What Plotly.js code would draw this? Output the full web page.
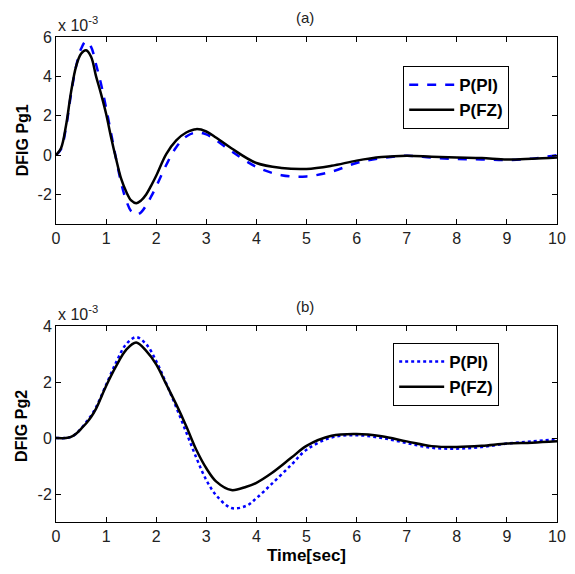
<!DOCTYPE html>
<html><head><meta charset="utf-8">
<script src="https://cdn.plot.ly/plotly-3.0.1.min.js"></script>
<style>html,body{margin:0;padding:0;background:#fff}</style>
</head><body><div id="chart" style="width:575px;height:574px"></div>
<script>
// Values in units of 1e-3
const tA = [0,0.1,0.2,0.3,0.4,0.5,0.6,0.7,0.8,0.9,1.0,1.1,1.2,1.3,1.4,1.5,1.6,1.7,1.8,1.9,2.0,2.2,2.4,2.6,2.8,3.0,3.2,3.5,4.0,4.5,5.0,5.5,6.0,6.5,7.0,7.5,8.0,8.5,9.0,9.5,10];
const pgA_PI = [0,0.3,1.4,3.1,4.5,5.4,5.78,5.5,4.6,3.6,2.4,1.1,-0.2,-1.4,-2.3,-2.85,-3.03,-2.9,-2.55,-2.1,-1.6,-0.5,0.4,0.95,1.15,1.05,0.75,0.2,-0.6,-1.02,-1.08,-0.84,-0.4,-0.15,-0.03,-0.13,-0.2,-0.22,-0.25,-0.18,0];
const pgA_FZ = [0,0.35,1.5,3.2,4.5,5.15,5.33,5.0,4.0,3.1,2.1,0.9,-0.2,-1.2,-1.85,-2.3,-2.44,-2.3,-2.0,-1.55,-1.05,0.05,0.75,1.15,1.32,1.2,0.88,0.35,-0.4,-0.65,-0.7,-0.54,-0.28,-0.1,-0.03,-0.08,-0.12,-0.15,-0.22,-0.18,-0.12];
const tB = [0,0.2,0.3,0.4,0.5,0.6,0.7,0.8,1.0,1.2,1.4,1.6,1.8,2.0,2.2,2.4,2.6,2.8,3.0,3.2,3.5,3.8,4.0,4.3,4.7,5.0,5.5,6.0,6.5,7.0,7.5,8.0,8.5,9.0,9.5,10];
const pgB_FZ = [0,0,0.04,0.15,0.33,0.52,0.75,1.05,1.86,2.57,3.15,3.41,3.11,2.63,1.92,1.2,0.42,-0.42,-1.08,-1.56,-1.86,-1.74,-1.6,-1.26,-0.7,-0.28,0.08,0.14,0.06,-0.12,-0.29,-0.32,-0.28,-0.2,-0.17,-0.12];
const pgB_PI = [0,0,0.04,0.15,0.34,0.56,0.8,1.1,1.9,2.7,3.35,3.6,3.35,2.75,1.95,1.1,0.2,-0.7,-1.5,-2.05,-2.5,-2.42,-2.15,-1.65,-0.95,-0.42,0.02,0.1,0.0,-0.18,-0.35,-0.38,-0.32,-0.2,-0.12,-0.05];
const xTicks = [0,1,2,3,4,5,6,7,8,9,10];
const xTickText = ['0','1','2','3','4','5','6','7','8','9','10'];
const yTicksA = [-2,0,2,4,6];
const yTickTextA = ['-2','0','2','4','6'];
const yTicksB = [-2,0,2,4];
const yTickTextB = ['-2','0','2','4'];
const names = ['P(PI)','P(FZ)'];

const F = 'Arial, "Liberation Sans", sans-serif';
const traces = [
  {x:tA, y:pgA_PI, name:names[0], mode:'lines', line:{color:'#0000ff', width:2.5, dash:'dash', shape:'spline'}, xaxis:'x', yaxis:'y', legend:'legend'},
  {x:tA, y:pgA_FZ, name:names[1], mode:'lines', line:{color:'#000000', width:2.5, shape:'spline'}, xaxis:'x', yaxis:'y', legend:'legend'},
  {x:tB, y:pgB_PI, name:names[0], mode:'lines', line:{color:'#0000ff', width:2.5, dash:'dot', shape:'spline'}, xaxis:'x2', yaxis:'y2', legend:'legend2'},
  {x:tB, y:pgB_FZ, name:names[1], mode:'lines', line:{color:'#000000', width:2.5, shape:'spline'}, xaxis:'x2', yaxis:'y2', legend:'legend2'}
];
const ax = {showgrid:false, zeroline:false, showline:true, mirror:'ticks', linecolor:'#000', linewidth:1,
  ticks:'inside', ticklen:5, tickcolor:'#000', tickfont:{family:F, size:16, color:'#222'}};
const layout = {
  width:575, height:574, margin:{l:56, r:18, t:37, b:52},
  paper_bgcolor:'#fff', plot_bgcolor:'#fff', showlegend:true,
  xaxis: Object.assign({}, ax, {domain:[0,1], range:[0,10], tickvals:xTicks, ticktext:xTickText, anchor:'y'}),
  yaxis: Object.assign({}, ax, {domain:[0.6144,1], range:[-3.5,6], tickvals:yTicksA, ticktext:yTickTextA, anchor:'x'}),
  xaxis2: Object.assign({}, ax, {domain:[0,1], range:[0,10], tickvals:xTicks, ticktext:xTickText, anchor:'y2',
     title:{text:'<b>Time[sec]</b>', font:{family:F, size:17, color:'#000'}, standoff:4}}),
  yaxis2: Object.assign({}, ax, {domain:[0,0.4041], range:[-3,4], tickvals:yTicksB, ticktext:yTickTextB, anchor:'x2'}),
  legend:{x:0.693, y:0.940, xanchor:'left', yanchor:'top', bordercolor:'#000', borderwidth:1, bgcolor:'#fff',
     font:{family:F, size:17, color:'#000', weight:'bold'}, itemwidth:45},
  legend2:{x:0.673, y:0.369, xanchor:'left', yanchor:'top', bordercolor:'#000', borderwidth:1, bgcolor:'#fff',
     font:{family:F, size:17, color:'#000', weight:'bold'}, itemwidth:45},
  annotations:[
    {text:'<b>DFIG Pg1</b>', xref:'paper', yref:'paper', x:-0.068, y:0.787, textangle:-90, showarrow:false, xanchor:'center', yanchor:'middle', font:{family:F, size:16, color:'#000'}},
    {text:'<b>DFIG Pg2</b>', xref:'paper', yref:'paper', x:-0.068, y:0.198, textangle:-90, showarrow:false, xanchor:'center', yanchor:'middle', font:{family:F, size:16, color:'#000'}},
    {text:'(a)', xref:'paper', yref:'paper', x:0.497, y:1.0, yshift:20, showarrow:false, xanchor:'center', yanchor:'middle', font:{family:F, size:15, color:'#222'}},
    {text:'(b)', xref:'paper', yref:'paper', x:0.497, y:0.4041, yshift:20, showarrow:false, xanchor:'center', yanchor:'middle', font:{family:F, size:15, color:'#222'}},
    {text:'x 10<sup>-3</sup>', xref:'paper', yref:'paper', x:0, y:1.0, yshift:1, showarrow:false, xanchor:'left', yanchor:'bottom', font:{family:F, size:16, color:'#222'}},
    {text:'x 10<sup>-3</sup>', xref:'paper', yref:'paper', x:0, y:0.4041, yshift:1, showarrow:false, xanchor:'left', yanchor:'bottom', font:{family:F, size:16, color:'#222'}}
  ]
};
Plotly.newPlot('chart', traces, layout, {staticPlot:true});
</script></body></html>
